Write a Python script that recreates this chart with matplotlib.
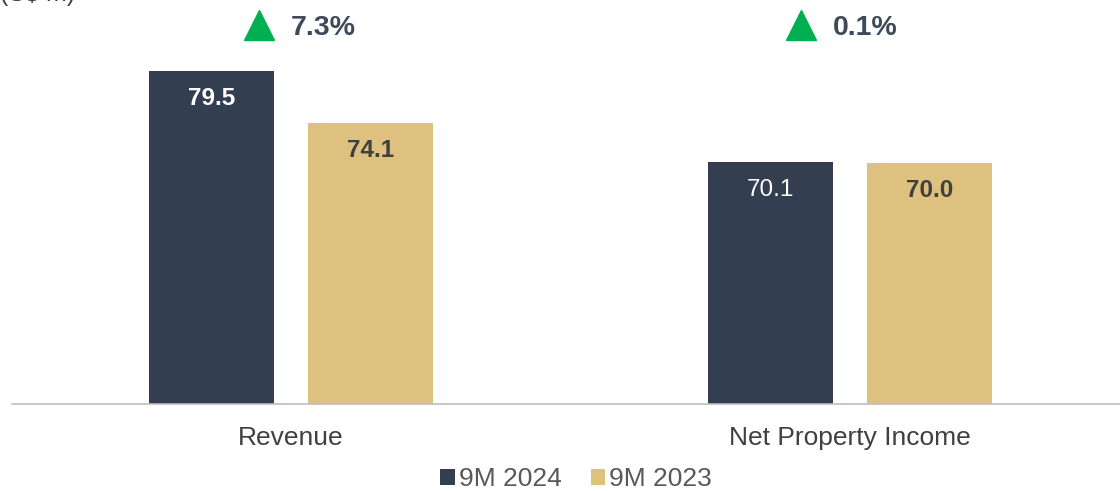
import matplotlib
matplotlib.use("Agg")
import matplotlib.pyplot as plt
from matplotlib.transforms import blended_transform_factory

categories = ["Revenue", "Net Property Income"]
series_names = ["9M 2024", "9M 2023"]
values_2024 = [79.5, 70.1]
values_2023 = [74.1, 70.0]
changes = ["7.3%", "0.1%"]

dark = "#333f50"
gold = "#dfc17f"
green = "#00b050"
FONT = "Liberation Sans"

fig = plt.figure(figsize=(11.2, 4.91), dpi=100)
ax = fig.add_axes([12/1120, 87/491, 1108/1120, 385/491])
ax.set_ylim(45, 45 + 385/9.65)
ax.set_xlim(-0.499, 1.483)

x = list(range(len(categories)))
w = 0.2236
off = 0.1422
b1 = ax.bar([i - off for i in x], values_2024, width=w, color=dark, label=series_names[0])
b2 = ax.bar([i + off for i in x], values_2023, width=w, color=gold, label=series_names[1])

for i, v in enumerate(values_2024):
    ax.annotate(f"{v:.1f}", (i - off, v), xytext=(0, -20), textcoords="offset points",
                ha="center", va="center", color="white", fontsize=17.5,
                fontweight="bold" if i == 0 else "normal", family=FONT)
for i, v in enumerate(values_2023):
    ax.annotate(f"{v:.1f}", (i + off, v), xytext=(0, -20), textcoords="offset points",
                ha="center", va="center", color="#404040", fontsize=17.5,
                fontweight="bold", family=FONT)

trans = blended_transform_factory(ax.transData, fig.transFigure)
shift = [0.0, -0.03]
for i, c in enumerate(changes):
    ax.plot([i - 0.057 + shift[i]], [1 - 25/491], marker="^", markersize=22, color=green,
            transform=trans, clip_on=False, linestyle="none")
    ax.text(i - 0.001 + shift[i], 1 - 28/491, c, transform=trans, ha="left", va="center",
            fontsize=20.5, fontweight="bold", color="#3d4a5a", family=FONT)

for s in ["top", "right", "left"]:
    ax.spines[s].set_visible(False)
ax.spines["bottom"].set_color("#bfbfbf")
ax.spines["bottom"].set_linewidth(1.2)
ax.set_yticks([])
ax.set_xticks(x)
ax.set_xticklabels(categories, fontsize=19, color="#404040", family=FONT)
ax.tick_params(axis="x", length=0, pad=16)

fig.text(0, 1 + 6/491, "(S$ m)", fontsize=18, color="#404040", va="center",
         family=FONT)

leg = fig.legend(handles=[b1, b2], loc="center", bbox_to_anchor=(576/1120, 1 - 479/491),
                 ncol=2, frameon=False, handlelength=0.55, handleheight=0.55,
                 handletextpad=0.15, columnspacing=1.1, borderpad=0.1,
                 prop={"family": FONT, "size": 19})
for t in leg.get_texts():
    t.set_color("#595959")

fig.savefig("out.png", dpi=100)
